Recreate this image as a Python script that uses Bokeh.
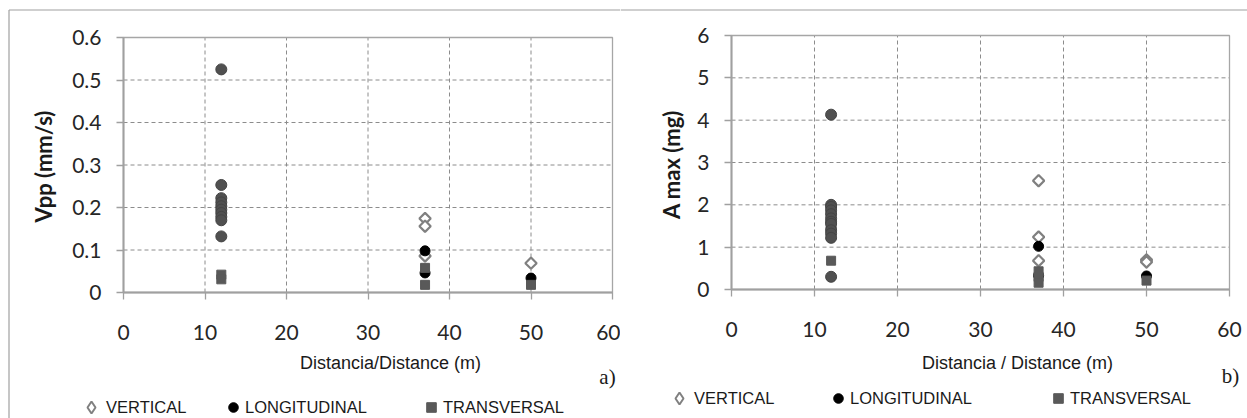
from bokeh.plotting import figure
from bokeh.models import Range1d, FixedTicker, Legend, LegendItem, Label
from bokeh.layouts import row
from bokeh.embed import file_html
from bokeh.resources import INLINE
import math

# ---------------- data ----------------
x_ticks = [0, 10, 20, 30, 40, 50, 60]
x_tick_labels = ["0", "10", "20", "30", "40", "50", "60"]

vpp_ticks = [0, 0.1, 0.2, 0.3, 0.4, 0.5, 0.6]
vpp_tick_labels = ["0", "0.1", "0.2", "0.3", "0.4", "0.5", "0.6"]
amax_ticks = [0, 1, 2, 3, 4, 5, 6]
amax_tick_labels = ["0", "1", "2", "3", "4", "5", "6"]

series_names = ["VERTICAL", "LONGITUDINAL", "TRANSVERSAL"]

# a) Vpp (mm/s)
vpp_vert_dist = [37, 37, 37, 50]
vpp_vert = [0.174, 0.156, 0.086, 0.069]
vpp_long_dist = [37, 37, 50]
vpp_long = [0.098, 0.046, 0.034]
vpp_trans_dist = [12, 12, 37, 37, 50]
vpp_trans = [0.042, 0.031, 0.058, 0.018, 0.018]
# overlapping components at 12 m (shown as merged grey points)
vpp_12m_dist = [12, 12, 12, 12, 12, 12, 12, 12, 12, 12]
vpp_12m = [0.525, 0.253, 0.222, 0.212, 0.203, 0.195, 0.187, 0.178, 0.170, 0.132]

# b) A max (mg)
amax_vert_dist = [37, 37, 37, 50, 50]
amax_vert = [2.57, 1.24, 0.68, 0.70, 0.65]
amax_long_dist = [12, 37, 37, 50]
amax_long = [1.46, 1.02, 0.33, 0.32]
amax_trans_dist = [12, 37, 37, 37, 50]
amax_trans = [0.68, 0.43, 0.30, 0.16, 0.21]
amax_12m_dist = [12, 12, 12, 12, 12, 12, 12, 12, 12, 12, 12, 12]
amax_12m = [4.13, 2.00, 1.95, 1.87, 1.78, 1.68, 1.60, 1.55, 1.40, 1.32, 1.22, 0.30]

# ---------------- styling ----------------
TICK_FONT = "Lato"
SANS = "Liberation Sans"
SERIF = "Liberation Serif"
GRID = "#8c8c8c"
AXIS = "#a0a0a0"
FRAME = "#a0a0a0"


def make_panel(cx0, cw, frame_l, frame_r, frame_t, frame_b, x_max,
               y_max, y_ticks, y_labels, y_title, y_title_pos,
               x_title, x_title_pos, tag, tag_pos,
               legend_cx, legend_cy, series, border_left):
    cy0, ch = 0, 418
    pxu_x = (frame_r - frame_l) / x_max
    pxu_y = (frame_b - frame_t) / y_max

    def dx(px):
        return (px - frame_l) / pxu_x

    def dy(py):
        return (frame_b - py) / pxu_y

    fig = figure(
        width=cw, height=ch,
        x_range=Range1d(dx(cx0), dx(cx0 + cw)),
        y_range=Range1d(dy(cy0 + ch), dy(cy0)),
        output_backend="svg", toolbar_location=None,
        min_border=0, min_border_left=0, min_border_right=0,
        min_border_top=0, min_border_bottom=0,
    )
    fig.background_fill_color = "white"
    fig.border_fill_color = "white"
    fig.outline_line_color = None
    fig.xgrid.visible = False
    fig.ygrid.visible = False

    # outer panel border (top line, and left line on the first panel)
    bx0 = 8.5 if border_left else cx0
    fig.segment(x0=[dx(bx0)], y0=[dy(9.5)], x1=[dx(cx0 + cw)], y1=[dy(9.5)],
                line_color=FRAME, line_width=1.2)
    if border_left:
        fig.segment(x0=[dx(8.5)], y0=[dy(9.5)], x1=[dx(8.5)], y1=[dy(ch)],
                    line_color=FRAME, line_width=1.2)

    # dashed grid inside the plot area, from the tick lists
    gx = x_ticks[1:-1]
    fig.segment(x0=gx, y0=[0] * len(gx), x1=gx, y1=[y_max] * len(gx),
                line_color=GRID, line_dash="4 3", line_width=1)
    gy = y_ticks[1:-1]
    fig.segment(x0=[0] * len(gy), y0=gy, x1=[x_max] * len(gy), y1=gy,
                line_color=GRID, line_dash="4 3", line_width=1)
    # plot-area box
    fig.quad(left=[0], right=[x_max], bottom=[0], top=[y_max],
             fill_color=None, line_color="#a6a6a6", line_width=1.3)

    # axes crossing at the origin
    for ax in (fig.xaxis[0], fig.yaxis[0]):
        ax.fixed_location = 0
        ax.axis_line_color = AXIS
        ax.axis_line_width = 2
        ax.major_tick_line_color = AXIS
        ax.major_tick_line_width = 1.3
        ax.major_tick_in = 0
        ax.major_tick_out = 7
        ax.minor_tick_line_color = None
        ax.major_label_text_font = TICK_FONT
        ax.major_label_text_font_size = "21px"
        ax.major_label_text_color = "#262626"

    fig.xaxis.bounds = (0, x_max)
    fig.xaxis.ticker = FixedTicker(ticks=x_ticks)
    fig.xaxis.major_label_overrides = dict(zip(x_ticks, x_tick_labels))
    fig.xaxis.major_label_standoff = 25

    fig.yaxis.bounds = (0, y_max)
    fig.yaxis.ticker = FixedTicker(ticks=y_ticks)
    fig.yaxis.major_label_overrides = dict(zip(y_ticks, y_labels))
    fig.yaxis.major_label_standoff = 15

    # markers
    (vd, vv), (ld, lv), (td, tv), (nd, nv) = series
    # legend proxy for the hollow diamond (hidden under the data diamonds)
    r_vkey = fig.scatter(vd, vv, marker="diamond", size=9,
                         fill_color="white", line_color="#808080", line_width=2)
    fig.scatter(vd, vv, marker="square", size=8, angle=math.pi / 4,
                fill_color="white", line_color="#808080", line_width=2.2)
    r_l = fig.scatter(ld, lv, marker="circle", size=10,
                      fill_color="black", line_color="black")
    r_t = fig.scatter(td, tv, marker="square", size=9,
                      fill_color="#595959", line_color="#595959")
    fig.scatter(nd, nv, marker="circle", size=11,
                fill_color="#505050", line_color="#444444", line_width=1)

    # texts
    fig.add_layout(Label(
        x=dx(y_title_pos[0]), y=dy(y_title_pos[1]), angle=math.pi / 2,
        text=y_title, text_font=TICK_FONT, text_font_style="bold",
        text_font_size="22px", text_color="#1a1a1a",
        text_align="center", text_baseline="middle"))
    fig.add_layout(Label(
        x=dx(x_title_pos[0]), y=dy(x_title_pos[1]),
        text=x_title, text_font=SANS, text_font_size="18px",
        text_color="#1a1a1a", text_align="center", text_baseline="middle"))
    fig.add_layout(Label(
        x=dx(tag_pos[0]), y=dy(tag_pos[1]),
        text=tag, text_font=SERIF, text_font_size="21px",
        text_color="#1a1a1a", text_align="center", text_baseline="middle"))

    glyph_sizes = [30, 24, 24]
    for name, rend, lcx, gw in zip(series_names, (r_vkey, r_l, r_t),
                                   legend_cx, glyph_sizes):
        ih = gw
        lg = Legend(items=[LegendItem(label=name, renderers=[rend])],
                    location=(lcx - gw / 2 - cx0, (cy0 + ch) - (legend_cy + ih / 2)),
                    orientation="horizontal",
                    glyph_width=gw, glyph_height=gw, label_height=ih,
                    label_standoff=12 - gw // 2, padding=0, margin=0, spacing=0,
                    border_line_color=None, background_fill_alpha=0,
                    label_text_font=SANS, label_text_font_size="16.5px",
                    label_text_color="#1a1a1a")
        fig.add_layout(lg, "center")
    return fig


pA = make_panel(
    cx0=0, cw=620, frame_l=123, frame_r=612, frame_t=37, frame_b=292, x_max=60,
    y_max=0.6, y_ticks=vpp_ticks, y_labels=vpp_tick_labels,
    y_title="Vpp (mm/s)", y_title_pos=(43, 166),
    x_title="Distancia/Distance (m)", x_title_pos=(390, 362),
    tag="a)", tag_pos=(607, 376),
    legend_cx=[91, 233, 431], legend_cy=407,
    series=[(vpp_vert_dist, vpp_vert), (vpp_long_dist, vpp_long),
            (vpp_trans_dist, vpp_trans), (vpp_12m_dist, vpp_12m)],
    border_left=True)

pB = make_panel(
    cx0=620, cw=627, frame_l=731, frame_r=1229, frame_t=35, frame_b=289, x_max=60,
    y_max=6, y_ticks=amax_ticks, y_labels=amax_tick_labels,
    y_title="A max (mg)", y_title_pos=(671, 164),
    x_title="Distancia / Distance (m)", x_title_pos=(1017, 362),
    tag="b)", tag_pos=(1230, 375),
    legend_cx=[679, 838, 1058], legend_cy=398,
    series=[(amax_vert_dist, amax_vert), (amax_long_dist, amax_long),
            (amax_trans_dist, amax_trans), (amax_12m_dist, amax_12m)],
    border_left=False)

layout = row(pA, pB, spacing=0)
open("out.html", "w").write(file_html(layout, INLINE))
